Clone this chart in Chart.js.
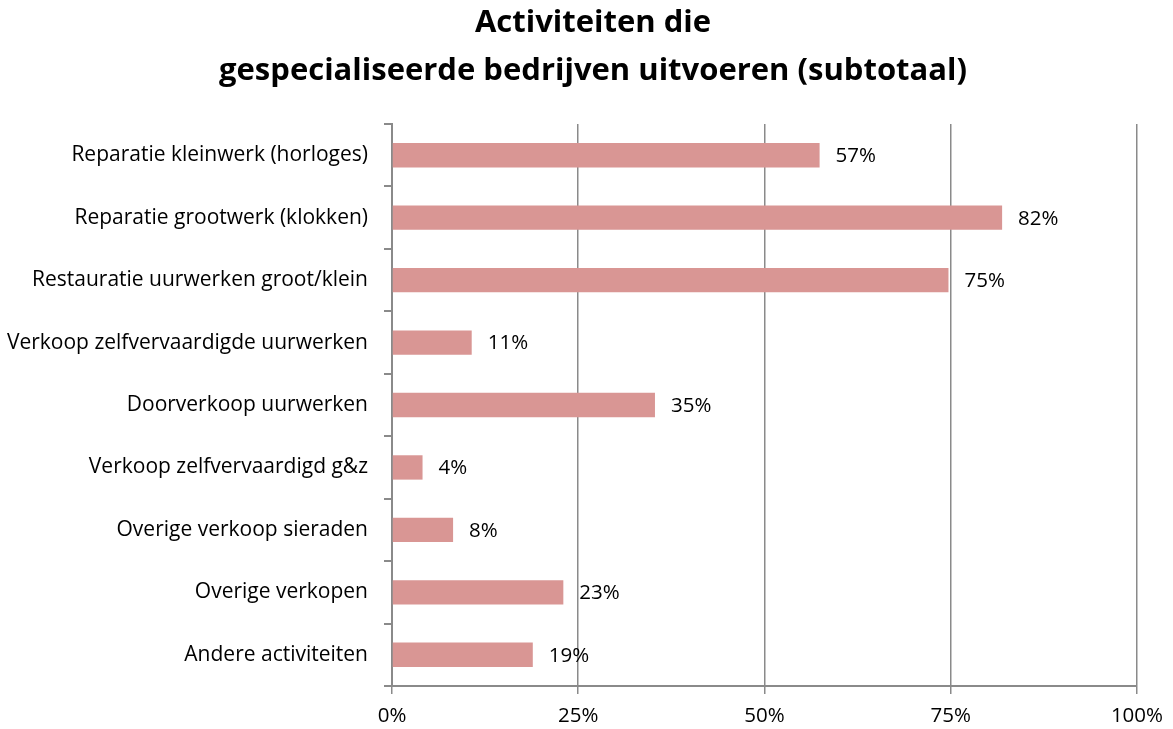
<!DOCTYPE html>
<html>
<head>
<meta charset="utf-8">
<script src="https://cdn.jsdelivr.net/npm/chart.js@4.4.1/dist/chart.umd.min.js"></script>
<style>
  html, body { margin: 0; padding: 0; background: #fff; }
  #wrap { width: 1173px; height: 729px; }
</style>
</head>
<body>
<div id="wrap"><canvas id="chart" width="1173" height="729"></canvas></div>
<script>
const categories = [
  "Reparatie kleinwerk (horloges)",
  "Reparatie grootwerk (klokken)",
  "Restauratie uurwerken groot/klein",
  "Verkoop zelfvervaardigde uurwerken",
  "Doorverkoop uurwerken",
  "Verkoop zelfvervaardigd g&z",
  "Overige verkoop sieraden",
  "Overige verkopen",
  "Andere activiteiten"
];
const shares = [57.4, 81.9, 74.7, 10.7, 35.3, 4.1, 8.2, 23.0, 18.9];
const shareLabels = ["57%", "82%", "75%", "11%", "35%", "4%", "8%", "23%", "19%"];
const titleLines = ["Activiteiten die", "gespecialiseerde bedrijven uitvoeren (subtotaal)"];

const FONT = "'Open Sans', sans-serif";
const GRID = "#8a8a8a";

// draws "57%" next to each bar end
const barValueLabels = {
  id: "barValueLabels",
  afterDatasetsDraw(chart) {
    const ctx = chart.ctx;
    const meta = chart.getDatasetMeta(0);
    ctx.save();
    ctx.font = "20.5px " + FONT;
    ctx.fillStyle = "#000";
    ctx.textAlign = "left";
    ctx.textBaseline = "middle";
    meta.data.forEach((bar, i) => {
      ctx.fillText(shareLabels[i], bar.x + 16, bar.y + 1);
    });
    ctx.restore();
  }
};

// the original title is centred at x≈593, not over the full canvas
const shiftTitle = {
  id: "shiftTitle",
  afterLayout(chart) {
    if (chart.titleBlock) chart.titleBlock.left = 47;
  }
};

new Chart(document.getElementById("chart").getContext("2d"), {
  type: "bar",
  data: {
    labels: categories,
    datasets: [{
      data: shares,
      backgroundColor: "#d99694",
      borderWidth: 0,
      categoryPercentage: 1,
      barPercentage: 0.39
    }]
  },
  plugins: [barValueLabels, shiftTitle],
  options: {
    indexAxis: "y",
    responsive: false,
    animation: false,
    layout: { padding: { top: 0, right: 34, bottom: 0, left: 0 } },
    plugins: {
      legend: { display: false },
      tooltip: { enabled: false },
      title: {
        display: true,
        text: titleLines,
        color: "#000",
        font: { family: FONT, size: 31, weight: "bold", lineHeight: "48px" },
        padding: { top: -1, bottom: 29 }
      }
    },
    scales: {
      x: {
        min: 0,
        max: 100,
        afterFit(scale) { scale.height = 43; },
        ticks: {
          stepSize: 25,
          color: "#000",
          padding: 10,
          font: { family: FONT, size: 20.5 },
          callback: (v) => v + "%"
        },
        grid: { color: GRID, lineWidth: 1.5, tickLength: 8 },
        border: { color: GRID, width: 2 }
      },
      y: {
        afterFit(scale) { scale.width = 392; },
        ticks: {
          color: "#000",
          padding: 16,
          font: { family: FONT, size: 21 }
        },
        grid: { color: GRID, lineWidth: 2, drawOnChartArea: false, tickLength: 8, offset: true },
        border: { color: GRID, width: 2 }
      }
    }
  }
});
</script>
</body>
</html>
